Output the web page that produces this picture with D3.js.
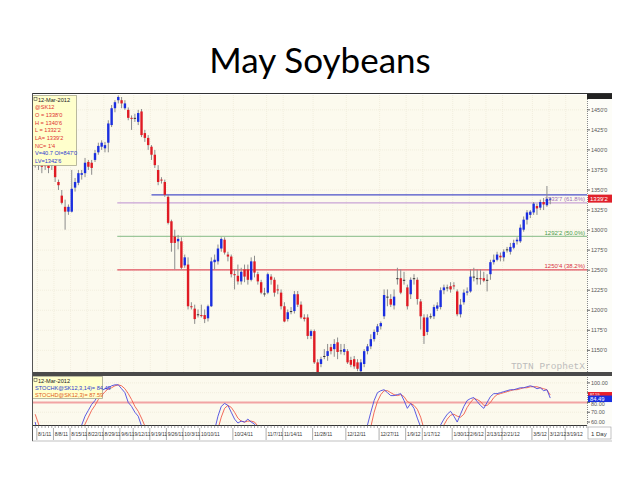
<!DOCTYPE html>
<html>
<head>
<meta charset="utf-8">
<script src="https://cdn.jsdelivr.net/npm/d3@7"></script>
<style>
  body { margin: 0; background: #fff; }
  text { font-family: "Liberation Sans", Arial, sans-serif; }
</style>
</head>
<body>
<svg id="chart" width="640" height="480"></svg>
<script>
// Daily bars of @SK12, 7/29/11 .. 3/12/12
const opens = [1390,1380,1384,1381,1384,1380,1385,1360,1343,1329,
  1323,1323,1353,1359,1369,1371,1385,1384,1387.5,1397,
  1404,1402,1409,1431,1452,1462,1462,1452,1450,1440,
  1440,1435,1448,1421,1415,1404,1394,1375,1363,1360,
  1341.5,1311,1292,1286,1286,1256,1257,1205,1202,1195,
  1194,1194,1190,1205,1260,1261,1277,1288,1269.5,1267,
  1245,1243,1236,1251,1251,1238,1261,1245,1235,1221,
  1222,1242,1238,1226,1222,1205,1189,1199,1199,1220,
  1207,1191,1191,1168,1174,1135,1133,1143,1143,1154,
  1151.5,1160,1150,1148,1149,1138,1139,1135,1124,1133,
  1149,1155,1164,1173,1180,1192.5,1217,1214,1206,1240,
  1240,1238,1228.5,1220,1240,1238,1211,1191,1173,1192.5,
  1192.5,1202,1204,1225,1228.5,1230,1231,1223.5,1195,1210,
  1222,1223.5,1242,1240,1240,1240,1238,1245,1260,1263,
  1268,1266,1276,1273,1278,1286,1286,1300.5,1313,1319,
  1322,1330,1328,1335,1331,1338];
const highs = [1394,1391,1385,1385,1387.5,1387.5,1387.5,1363,1350,1338,
  1332,1375,1365,1375,1375,1390,1387.5,1387.5,1400,1409,
  1412,1410,1437,1456,1462,1468,1466,1462,1453,1443,
  1445,1450,1451,1425,1418.5,1406,1400,1381,1366,1363,
  1344,1313,1300.5,1294,1291,1269.5,1266,1210,1207,1201,
  1207,1201,1207,1266,1269.5,1282,1291,1291,1273,1269.5,
  1251,1257,1253,1257,1257,1266,1268,1248,1238,1228,
  1247,1245,1241,1232,1226,1210,1201,1204,1224,1224,
  1211,1195,1195,1176,1176,1139,1142,1151.5,1158,1158,
  1164,1166,1158,1158,1151.5,1142,1143,1139,1139,1151.5,
  1158,1170,1176,1183,1186,1226,1226,1220,1226,1253,
  1251,1248,1232,1241,1245,1241,1214,1195,1195,1196,
  1207,1210,1228.5,1232,1232,1235,1235,1226,1214,1226,
  1228.5,1251,1253,1251,1251,1248,1245,1263,1269.5,1273,
  1272,1276,1279,1284,1288,1291,1307,1317,1325,1325,
  1335,1333,1338,1340,1355,1340.75];
const lows = [1378,1375,1371,1375,1371,1375,1360,1350,1332,1300.5,
  1319,1322,1348,1356,1363,1366,1375,1369,1385,1394,
  1400,1397,1397,1428.5,1447,1458,1452,1450,1437,1425,
  1435,1431,1416,1410,1400,1387.5,1377.5,1356,1358,1341.5,
  1307,1273,1251,1276,1251,1253,1201,1201,1183,1191,
  1191,1184,1186,1204,1251,1257,1273,1269.5,1261,1241,
  1226,1232,1232,1235,1232,1236,1241,1232,1220,1217,
  1220,1232,1217,1220,1201,1185,1186,1195,1196,1204,
  1189,1186,1164,1164,1133,1122,1129,1139,1137,1145,
  1142,1139,1145,1144,1133,1129,1127,1124,1123,1129,
  1145,1151.5,1161,1169,1176,1189,1205,1204,1201,1232,
  1220,1232,1201,1214,1232,1207,1176,1158,1169,1189,
  1189,1199,1201,1220,1223.5,1222,1226,1192.5,1191,1207,
  1218.5,1222,1236,1232,1232,1235,1223.5,1238,1257,1261,
  1261,1261,1272,1269.5,1276,1282,1284,1298,1307,1315,
  1319,1319,1325,1325,1329,1332.25];
const closes = [1383,1387,1379,1380,1377.5,1385,1366,1356,1334,1323,
  1329,1351.5,1360,1371,1371,1384,1379,1377.5,1396,1405,
  1409,1406,1433,1452,1459.5,1466,1458,1458,1440,1439,
  1440,1446,1418.5,1415,1406,1394,1381,1360,1362,1344,
  1309,1284,1284,1289,1253,1266,1205,1204,1189,1195,
  1193,1189,1205,1261,1263,1277,1289,1272,1267,1245,
  1244,1236,1248,1242,1238,1261,1247,1236,1222,1221,
  1245,1238,1222,1225,1205,1186,1197.5,1199,1220,1207,
  1191,1189,1168,1174,1135,1123,1139,1143,1149,1149,
  1158,1148,1150,1151.5,1135,1132,1130,1127,1135,1149,
  1155,1164,1173,1180,1184,1219,1217,1207,1217,1240,
  1222,1238,1205,1238,1240,1214,1192.5,1168,1191,1192.5,
  1204,1206,1225,1228.5,1228.5,1226,1230,1195,1207,1222,
  1223.5,1242,1242,1240,1239,1237,1238,1260,1263,1269.5,
  1266,1273,1276,1279,1284,1288,1303,1313,1322,1323,
  1333,1327,1335,1332,1339,1339.25];

// Stochastic %K and %D (values under ~57 fall below the panel)
const stochK = [60,45,40,35,30,32,22,15,8,5,
  10,30,42,50,57,66,72,78,82,88,
  92,94,95,97,98,98,94,90,80,76,
  70,66,56,45,35,28,20,15,12,10,
  8,6,5,4,3,5,4,6,5,4,
  6,8,20,40,52,66,76,79,77,70,
  63,59,61,60,63,60,58,50,38,25,
  28,35,30,22,25,15,8,10,15,25,
  22,12,10,6,8,3,2,8,12,18,
  15,22,18,20,22,10,6,5,15,38,
  57,70,82,90,92,93,90,87,87,88,
  89,82,74,79,74,64,55,40,25,20,
  25,50,57,63,68,71,66,60,68,76,
  82,84,85,81,77,74,80,86,89,89,
  90,91,92,93,93,94,95,95,96,97,
  96,94,95,92,93,84.49];
const stochD = [68,58,48,40,35,32,28,23,15,9,
  8,15,27,41,50,58,65,72,77,83,
  87,91,94,95,97,98,97,94,89,83,
  76,71,64,56,45,36,28,21,16,12,
  10,8,6,5,4,4,4,5,5,5,
  5,6,11,23,37,53,65,74,77,75,
  70,64,61,60,61,61,60,56,49,38,
  30,29,31,29,26,21,16,11,11,17,
  21,20,15,9,8,6,4,4,7,13,
  15,18,18,20,20,17,13,7,9,19,
  37,55,70,81,88,92,92,90,88,87,
  88,86,81,79,77,73,65,53,40,28,
  23,32,44,57,63,67,68,66,65,68,
  75,80,84,83,81,77,77,80,85,88,
  89,90,91,92,93,93,94,95,95,96,
  96,96,95,94,93,87.59];

const firstDay = "2011-07-29", lastDay = "2012-03-27";
const holidays = ["2011-09-05","2011-11-24","2011-12-26","2012-01-02","2012-01-16","2012-02-20"];
const weekLabels = ["8/1/11","8/8/11","8/15/11","8/22/11","8/29/11","9/6/11","9/12/11","9/19/11",
  "9/26/11","10/3/11","10/10/11","10/24/11","11/7/11","11/14/11","11/28/11","12/12/11","12/27/11",
  "1/9/12","1/17/12","1/30/12","2/6/12","2/13/12","2/21/12","3/5/12","3/12/12","3/19/12"];

const priceTicks = [1150,1175,1200,1225,1250,1275,1300,1325,1350,1375,1400,1425,1450];
const stochTicks = [60,70,80,90,100];
const stochLabels = [60,70,80,100];   // 90.00 sits under the value tags
const resistance = 1344;
const fibLevels = [1333.875, 1292.25, 1250.5];
const fibNames = ["61.8%", "50.0%", "38.2%"];
const fibColors = ["#c9a3d6", "#9cc79a", "#e0505e"];
const infoLines = ["12-Mar-2012","@SK12","O = 1338'0","H = 1340'6","L = 1332'2","LA= 1339'2","NC= 1'4","V=40.7 OI=847'0","LV=1342'6"];
const stochInfo = ["12-Mar-2012","STOCHK@SK12,3,14)= 84.49","STOCHD@SK12,3)= 87.59"];

// trading calendar
const parse = d3.timeParse("%Y-%m-%d"), fmtIso = d3.timeFormat("%Y-%m-%d"), fmtShort = d3.timeFormat("%-m/%-d/%y");
const days = d3.timeDay.range(parse(firstDay), d3.timeDay.offset(parse(lastDay), 1))
    .filter(d => d.getDay() > 0 && d.getDay() < 6 && !holidays.includes(fmtIso(d)))
    .map(fmtShort);

const bars = closes.map((c, i) => ({i: i, o: opens[i], h: highs[i], l: lows[i], c: c}));

const svg = d3.select("#chart");
const left = 32, right = 612, axisX = 587;
const mainTop = 95, mainBot = 372, stTop = 376, stBot = 425, axBot = 441;

let x = d3.scaleBand().domain(days).range([34, 588]).paddingInner(0.28);
let xc = i => x(days[i]) + x.bandwidth() / 2;
let y = d3.scaleLinear().domain([1123, 1468.5]).range([mainBot, mainTop]);
let ys = d3.scaleLinear().domain([57, 107]).range([stBot, stTop]);

let fmtPrice = p => Math.floor(p) + "'" + Math.round((p - Math.floor(p)) * 8);

svg.append("defs").append("clipPath").attr("id", "mainClip")
    .append("rect").attr("x", left).attr("y", mainTop).attr("width", axisX - left).attr("height", mainBot - mainTop);
svg.select("defs").append("clipPath").attr("id", "stClip")
    .append("rect").attr("x", left).attr("y", stTop).attr("width", axisX - left).attr("height", stBot - stTop);

// title
svg.append("text").attr("x", 320).attr("y", 73).attr("text-anchor", "middle")
    .style("font-family", "Lato, 'Open Sans', sans-serif").style("font-size", "35px").attr("fill", "#000")
    .text("May Soybeans");

// panel backgrounds
svg.append("rect").attr("x", left).attr("y", mainTop).attr("width", axisX - left).attr("height", mainBot - mainTop).attr("fill", "#fcfaee");
svg.append("rect").attr("x", left).attr("y", stTop).attr("width", axisX - left).attr("height", stBot - stTop).attr("fill", "#fcfaee");
svg.append("rect").attr("x", axisX).attr("y", mainTop).attr("width", right - axisX).attr("height", stBot - mainTop).attr("fill", "#fdfdf8");

// grid
let grid = svg.append("g").attr("stroke", "#ebe6d4").attr("stroke-width", 0.6).attr("stroke-dasharray", "1,1");
grid.selectAll("line.h").data(priceTicks).enter().append("line")
    .attr("x1", left).attr("x2", axisX).attr("y1", d => y(d)).attr("y2", d => y(d));
grid.selectAll("line.v").data(weekLabels).enter().append("line")
    .attr("x1", d => x(d)).attr("x2", d => x(d)).attr("y1", mainTop).attr("y2", mainBot);
grid.selectAll("line.s").data(stochTicks).enter().append("line")
    .attr("x1", left).attr("x2", axisX).attr("y1", d => ys(d)).attr("y2", d => ys(d));

// fib and resistance lines
let fibStart = xc(25) - 1;
let lines = svg.append("g");
fibLevels.forEach((lv, k) => {
    lines.append("line").attr("x1", fibStart).attr("x2", axisX).attr("y1", y(lv)).attr("y2", y(lv))
        .attr("stroke", fibColors[k]).attr("stroke-width", 1.2);
    lines.append("text").attr("x", axisX - 2).attr("y", y(lv) - 1.5).attr("text-anchor", "end")
        .attr("fill", k === 0 ? "#a070b8" : (k === 1 ? "#4a9a4a" : "#d83040"))
        .style("font-size", "6px").text(fmtPrice(lv) + " (" + fibNames[k] + ")");
});
lines.append("line").attr("x1", xc(35)).attr("x2", axisX).attr("y1", y(resistance)).attr("y2", y(resistance))
    .attr("stroke", "#4a4fc8").attr("stroke-width", 1.2);

// candles
let cg = svg.append("g").attr("clip-path", "url(#mainClip)");
cg.selectAll("line.wick").data(bars).enter().append("line")
    .attr("x1", d => xc(d.i)).attr("x2", d => xc(d.i))
    .attr("y1", d => y(d.h)).attr("y2", d => y(d.l))
    .attr("stroke", "#8c8c8c").attr("stroke-width", 1);
cg.selectAll("rect.body").data(bars).enter().append("rect")
    .attr("x", d => x(days[d.i]))
    .attr("width", x.bandwidth())
    .attr("y", d => y(Math.max(d.o, d.c)))
    .attr("height", d => Math.max(1, Math.abs(y(d.o) - y(d.c))))
    .attr("fill", d => d.c === d.o ? "#333" : (d.c > d.o ? "#1a2ee0" : "#e01b24"));

// watermark
svg.append("text").attr("x", 585).attr("y", 369).attr("text-anchor", "end")
    .style("font-family", "'Liberation Mono', 'DejaVu Sans Mono', monospace").style("font-size", "9.5px")
    .attr("fill", "#bcbcbc").text("TDTN ProphetX");

// right price axis
let ax = svg.append("g");
ax.append("line").attr("x1", axisX + 0.5).attr("x2", axisX + 0.5).attr("y1", mainTop).attr("y2", stBot)
    .attr("stroke", "#888").attr("stroke-dasharray", "1,1");
ax.selectAll("line.t").data(priceTicks).enter().append("line")
    .attr("x1", axisX).attr("x2", axisX + 3).attr("y1", d => y(d)).attr("y2", d => y(d)).attr("stroke", "#666");
ax.selectAll("text.t").data(priceTicks).enter().append("text")
    .attr("x", axisX + 4).attr("y", d => y(d) + 2).style("font-size", "5.5px").attr("fill", "#555")
    .text(d => fmtPrice(d));
ax.append("rect").attr("x", axisX + 1).attr("y", y(closes[closes.length - 1]) - 4).attr("width", 24).attr("height", 8).attr("fill", "#e0202a");
ax.append("text").attr("x", axisX + 3).attr("y", y(closes[closes.length - 1]) + 2).style("font-size", "6px").attr("fill", "#fff")
    .text(fmtPrice(closes[closes.length - 1]));
ax.append("rect").attr("x", axisX).attr("y", mainTop - 2).attr("width", right - axisX).attr("height", 6).attr("fill", "#222");

// info box
let ib = svg.append("g");
ib.append("rect").attr("x", left + 0.5).attr("y", mainTop + 0.5).attr("width", 44).attr("height", 70)
    .attr("fill", "#ffffcc").attr("stroke", "#a8a890").attr("stroke-width", 0.8);
ib.selectAll("text").data(infoLines).enter().append("text")
    .attr("x", (d, k) => k === 0 ? left + 6 : left + 3).attr("y", (d, k) => mainTop + 6.5 + k * 7.7)
    .style("font-size", "5.6px")
    .attr("fill", (d, k) => k === 0 ? "#222" : (k >= 7 ? "#2d3ad0" : "#e03030"))
    .text(d => d);
ib.append("rect").attr("x", left + 2).attr("y", mainTop + 2.5).attr("width", 3).attr("height", 3).attr("fill", "none").attr("stroke", "#333").attr("stroke-width", 0.5);

// separator between panels
svg.append("rect").attr("x", left).attr("y", mainBot).attr("width", right - left).attr("height", stTop - mainBot).attr("fill", "#4a4a4a");

// stochastic panel
svg.append("line").attr("x1", left).attr("x2", axisX).attr("y1", ys(80)).attr("y2", ys(80))
    .attr("stroke", "#f2a4a4").attr("stroke-width", 2);
let sg = svg.append("g").attr("clip-path", "url(#stClip)");
let lineK = d3.line().x((d, i) => xc(i)).y(d => ys(d));
sg.append("path").attr("d", lineK(stochD)).attr("fill", "none").attr("stroke", "#f05a4a").attr("stroke-width", 0.9);
sg.append("path").attr("d", lineK(stochK)).attr("fill", "none").attr("stroke", "#4a4ae0").attr("stroke-width", 0.9);

ax.selectAll("text.s").data(stochLabels).enter().append("text")
    .attr("x", axisX + 4).attr("y", d => ys(d) + (d === 80 ? 4 : 2)).style("font-size", "5.5px").attr("fill", "#555")
    .text(d => d.toFixed(2));
ax.selectAll("line.s").data(stochTicks).enter().append("line")
    .attr("x1", axisX).attr("x2", axisX + 3).attr("y1", d => ys(d)).attr("y2", d => ys(d)).attr("stroke", "#666");
let lastD = stochD[stochD.length - 1], lastK = stochK[stochK.length - 1];
ax.append("rect").attr("x", axisX + 1).attr("y", ys(lastD) - 3).attr("width", 24).attr("height", 4.5).attr("fill", "#e8202a");
ax.append("text").attr("x", axisX + 3).attr("y", ys(lastD) + 0.6).style("font-size", "3.8px").attr("fill", "#fff").text(lastD.toFixed(2));
ax.append("rect").attr("x", axisX + 1).attr("y", ys(lastK) - 2.5).attr("width", 24).attr("height", 6.5).attr("fill", "#1a30e0");
ax.append("text").attr("x", axisX + 3).attr("y", ys(lastK) + 2.6).style("font-size", "5.8px").attr("fill", "#fff").text(lastK.toFixed(2));

let sb = svg.append("g");
sb.append("rect").attr("x", left + 0.5).attr("y", stTop + 0.5).attr("width", 70).attr("height", 22)
    .attr("fill", "#ffffcc").attr("stroke", "#a8a890").attr("stroke-width", 0.8);
sb.selectAll("text").data(stochInfo).enter().append("text")
    .attr("x", (d, k) => k === 0 ? left + 6 : left + 3).attr("y", (d, k) => stTop + 6.5 + k * 7)
    .style("font-size", "5.6px")
    .attr("fill", (d, k) => k === 0 ? "#222" : (k === 1 ? "#2d3ad0" : "#e06020"))
    .text(d => d);
sb.append("rect").attr("x", left + 2).attr("y", stTop + 2.5).attr("width", 3).attr("height", 3).attr("fill", "none").attr("stroke", "#333").attr("stroke-width", 0.5);

// date axis
let dx = svg.append("g");
dx.append("rect").attr("x", left).attr("y", stBot).attr("width", right - left).attr("height", axBot - stBot).attr("fill", "#fff");
dx.append("line").attr("x1", left).attr("x2", axisX).attr("y1", stBot + 0.5).attr("y2", stBot + 0.5).attr("stroke", "#333");
dx.selectAll("line.d").data(days).enter().append("line")
    .attr("x1", d => x(d) + x.bandwidth() / 2).attr("x2", d => x(d) + x.bandwidth() / 2)
    .attr("y1", stBot).attr("y2", stBot + 3).attr("stroke", "#555").attr("stroke-width", 0.5);
dx.selectAll("line.w").data(weekLabels).enter().append("line")
    .attr("x1", d => x(d) - 0.5).attr("x2", d => x(d) - 0.5)
    .attr("y1", stBot + 3).attr("y2", axBot - 1).attr("stroke", "#777").attr("stroke-width", 0.6);
dx.selectAll("text").data(weekLabels).enter().append("text")
    .attr("x", d => x(d) + 0.8).attr("y", stBot + 11).style("font-size", "4.9px").attr("fill", "#333")
    .text(d => d);
dx.append("rect").attr("x", axisX + 1).attr("y", stBot + 2).attr("width", right - axisX - 2).attr("height", 12)
    .attr("fill", "#fff").attr("stroke", "#999").attr("stroke-width", 0.6);
dx.append("text").attr("x", axisX + 4).attr("y", stBot + 10.5).style("font-size", "6px").attr("fill", "#333").text("1 Day");

// frame
svg.append("line").attr("x1", left).attr("x2", right).attr("y1", mainTop - 1.5).attr("y2", mainTop - 1.5).attr("stroke", "#333");
svg.append("line").attr("x1", left + 0.5).attr("x2", left + 0.5).attr("y1", mainTop - 2).attr("y2", axBot).attr("stroke", "#555");
svg.append("line").attr("x1", left).attr("x2", right).attr("y1", axBot).attr("y2", axBot).attr("stroke", "#999").attr("stroke-width", 0.6);
</script>
</body>
</html>
